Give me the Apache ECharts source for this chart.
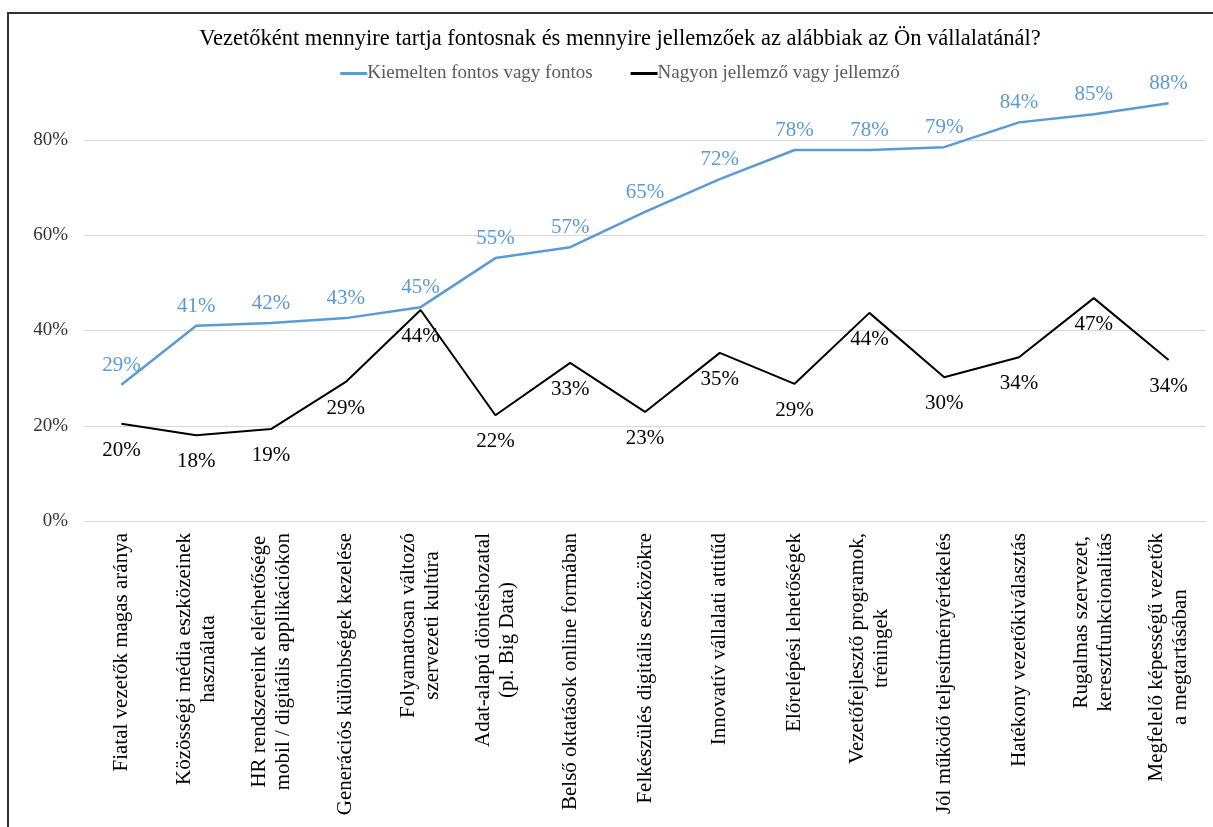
<!DOCTYPE html>
<html>
<head>
  <meta charset="utf-8">
  <title>Vezetői felmérés</title>
  <script src="https://cdn.jsdelivr.net/npm/echarts@6/dist/echarts.min.js"></script>
  <style>
    html, body { margin: 0; padding: 0; background: #fff; overflow: hidden; }
    #frame {
      position: absolute; left: 7px; top: 12px; width: 1230px; height: 840px;
      border: 2px solid #333; box-sizing: border-box;
    }
    /* a diagram szélesebb az ablaknál, így a cím a keret közepére kerül */
    #main { position: absolute; left: 0; top: 0; width: 1240px; height: 827px; }
  </style>
</head>
<body>
<div id="frame"></div>
<div id="main"></div>
<script>
  // kategóriák (tengelyfeliratok)
  var categories = [
    'Fiatal vezetők magas aránya',
    'Közösségi média eszközeinek\nhasználata',
    'HR rendszereink elérhetősége\nmobil / digitális applikációkon',
    'Generációs különbségek kezelése',
    'Folyamatosan változó\nszervezeti kultúra',
    'Adat-alapú döntéshozatal\n(pl. Big Data)',
    'Belső oktatások online formában',
    'Felkészülés digitális eszközökre',
    'Innovatív vállalati attitűd',
    'Előrelépési lehetőségek',
    'Vezetőfejlesztő programok,\ntréningek',
    'Jól működő teljesítményértékelés',
    'Hatékony vezetőkiválasztás',
    'Rugalmas szervezet,\nkeresztfunkcionalitás',
    'Megfelelő képességű vezetők\na megtartásában'
  ];
  var seriesNames = ['Kiemelten fontos vagy fontos', 'Nagyon jellemző vagy jellemző'];
  var fontos = [0.286, 0.410, 0.416, 0.426, 0.449, 0.552, 0.575, 0.649, 0.718, 0.779, 0.779, 0.785, 0.837, 0.854, 0.877];
  var jellemzo = [0.204, 0.180, 0.193, 0.292, 0.443, 0.222, 0.332, 0.229, 0.353, 0.288, 0.437, 0.302, 0.344, 0.468, 0.338];
  var yTicks = [0, 0.2, 0.4, 0.6, 0.8];

  var FONT = '"Liberation Serif", "Times New Roman", serif';
  var chart = echarts.init(document.getElementById('main'));

  function pct(v) { return Math.round(v * 100) + '%'; }

  var option = {
    backgroundColor: 'transparent',
    animation: false,
    textStyle: { fontFamily: FONT },
    title: {
      text: 'Vezetőként mennyire tartja fontosnak és mennyire jellemzőek az alábbiak az Ön vállalatánál?',
      left: 'center',
      top: 23,
      textStyle: { fontFamily: FONT, fontSize: 22.5, fontWeight: 'normal', color: '#000' }
    },
    legend: {
      top: 59,
      left: 'center',
      itemWidth: 27,
      itemHeight: 3,
      itemGap: 38,
      icon: 'rect',
      data: seriesNames,
      textStyle: { fontFamily: FONT, fontSize: 19, color: '#595959', padding: [0, 0, 0, -5] }
    },
    grid: { left: 84, right: 34, top: 521 - 0.9 * 476.25, bottom: 306, containLabel: false },
    xAxis: {
      type: 'category',
      data: categories,
      boundaryGap: true,
      axisLine: { show: true, lineStyle: { color: '#d9d9d9', width: 1 } },
      axisTick: { show: false },
      axisLabel: {
        interval: 0,
        rotate: 90,
        margin: 12,
        formatter: function (v) {
          return v.split('\n').map(function (s) { return '{c|' + s + '}'; }).join('\n');
        },
        rich: {
          c: { align: 'center', fontFamily: FONT, fontSize: 21, lineHeight: 24, color: '#000' }
        }
      }
    },
    yAxis: {
      type: 'value',
      min: 0,
      max: 0.9,
      interval: 0.2,
      axisLine: { show: false },
      axisTick: { show: false },
      splitLine: { show: true, showMaxLine: false, lineStyle: { color: '#d9d9d9', width: 1 } },
      axisLabel: {
        showMaxLabel: false,
        margin: 16,
        fontFamily: FONT,
        fontSize: 19,
        color: '#333',
        formatter: function (v) { return yTicks.indexOf(Math.round(v * 10) / 10) >= 0 ? pct(v) : ''; }
      }
    },
    series: [
      {
        name: seriesNames[0],
        type: 'line',
        data: fontos,
        symbol: 'circle',
        symbolSize: 0,
        showSymbol: true,
        color: '#5b9bd5',
        lineStyle: { color: '#5b9bd5', width: 2.5 },
        label: {
          show: true,
          position: 'top',
          distance: 9,
          fontFamily: FONT,
          fontSize: 21,
          color: '#5b9bd5',
          formatter: function (p) { return pct(p.value); }
        },
        labelLayout: { hideOverlap: false },
        z: 3
      },
      {
        name: seriesNames[1],
        type: 'line',
        data: jellemzo,
        symbol: 'circle',
        symbolSize: 0,
        showSymbol: true,
        color: '#000',
        lineStyle: { color: '#000', width: 2 },
        label: {
          show: true,
          position: 'bottom',
          distance: 16,
          fontFamily: FONT,
          fontSize: 21,
          color: '#000',
          formatter: function (p) { return pct(p.value); }
        },
        labelLayout: { hideOverlap: false },
        z: 2
      }
    ]
  };

  chart.setOption(option);
  window.onresize = function () { chart.resize(); };
</script>
</body>
</html>
